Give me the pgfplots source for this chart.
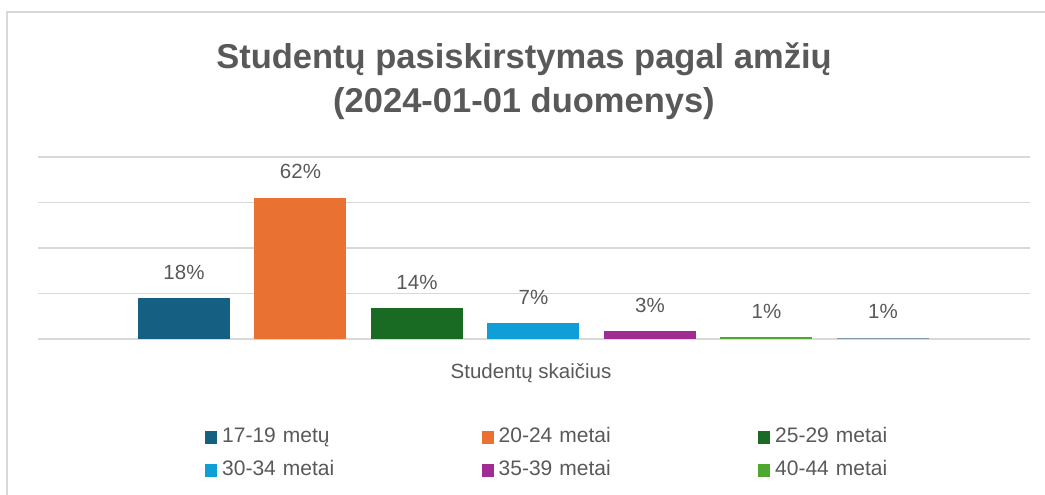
\documentclass[border=0pt]{standalone}
\usepackage{pgfplots}
\pgfplotsset{compat=1.18}
\usepackage{fontspec}
\setmainfont{Liberation Sans}
\definecolor{c1}{HTML}{156082}
\definecolor{c2}{HTML}{E97132}
\definecolor{c3}{HTML}{196B24}
\definecolor{c4}{HTML}{0F9ED5}
\definecolor{c5}{HTML}{A02B93}
\definecolor{c6}{HTML}{4EA72E}
\definecolor{c7}{HTML}{7F97AD}
\definecolor{txt}{HTML}{595959}
\definecolor{gridc}{HTML}{D9D9D9}
\begin{document}
\begin{tikzpicture}[x=1pt,y=1pt]
\useasboundingbox (0,0) rectangle (1045,-495);
\draw[gridc, line width=1.2pt] (7,-495) -- (7,-12) -- (1045,-12);
\begin{axis}[
  at={(38pt,-339pt)}, anchor=south west,
  scale only axis, width=992pt, height=182pt,
  xmin=-0.253, xmax=8.262, ymin=0, ymax=80,
  axis line style={draw=none},
  ytick={0,20,40,60,80}, yticklabels={},
  xtick=\empty,
  major tick length=0pt,
  ymajorgrids, major grid style={gridc, line width=1.3pt},
  clip=false,
  nodes near coords, point meta=explicit symbolic,
  every node near coord/.append style={font=\fontsize{20.5}{24}\selectfont, text=txt, anchor=base, yshift=19pt, inner sep=0pt},
  title={Studentų pasiskirstymas pagal amžių\\(2024-01-01 duomenys)},
  title style={font=\fontsize{34.5}{44}\selectfont\bfseries, text=txt, align=center, anchor=base, at={(axis description cs:0.5,1)}, yshift=39pt, xshift=-10pt, inner sep=0pt},
  xlabel={Studentų skaičius},
  xlabel style={font=\fontsize{20.5}{24}\selectfont, text=txt, anchor=base, at={(axis description cs:0.5,0)}, yshift=-39pt, xshift=-3pt, inner sep=0pt},
  legend columns=3,
  legend style={draw=none, fill=none, inner sep=0pt, at={(rel axis cs:0.1683,-0.467)}, anchor=north west,
    font=\fontsize{21}{24}\selectfont, text=txt,
    nodes={text width=240pt, inner xsep=5pt, inner ysep=3pt, text height=15pt, text depth=5pt},
    /tikz/every even column/.append style={column sep=14.5pt},
    row sep=7pt},
  legend entries={17-19 metų, 20-24 metai, 25-29 metai, 30-34 metai, 35-39 metai, 40-44 metai},
  mybar/.style={ybar, bar width=92pt, bar shift=0pt, fill=#1, draw=none,
    legend image code/.code={\fill[fill=#1] (0pt,-6.5pt) rectangle (12pt,6.5pt);}},
]
\addplot[mybar=c1] coordinates {(1,18) [18\%]};
\addplot[mybar=c2] coordinates {(2,62) [62\%]};
\addplot[mybar=c3] coordinates {(3,13.6) [14\%]};
\addplot[mybar=c4] coordinates {(4,7) [7\%]};
\addplot[mybar=c5] coordinates {(5,3.4) [3\%]};
\addplot[mybar=c6] coordinates {(6,0.7) [1\%]};
\addplot[mybar=c7] coordinates {(7,0.5) [1\%]};
\end{axis}
\end{tikzpicture}
\end{document}
